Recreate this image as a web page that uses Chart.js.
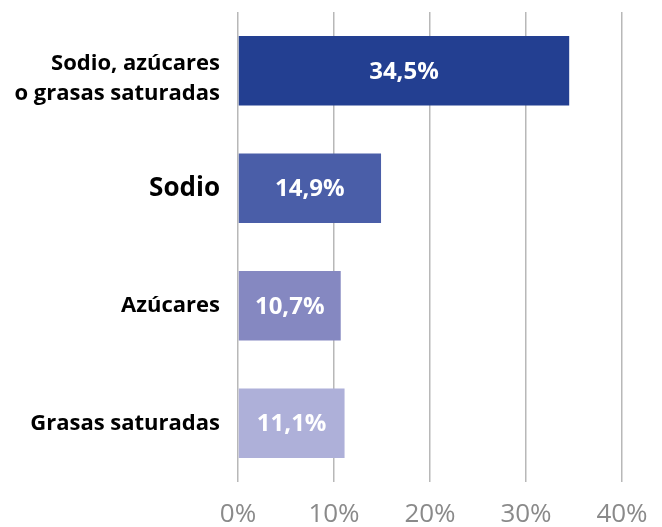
<!DOCTYPE html>
<html>
<head>
<meta charset="utf-8">
<script src="https://cdn.jsdelivr.net/npm/chart.js@4/dist/chart.umd.min.js"></script>
<style>
html,body{margin:0;padding:0;background:#fff;}
#wrap{width:662px;height:527px;position:relative;}
</style>
</head>
<body>
<div id="wrap"><canvas id="c" width="662" height="527"></canvas></div>
<script>
const categories = [["Sodio, azúcares", "o grasas saturadas"], "Sodio", "Azúcares", "Grasas saturadas"];
const values = [34.5, 14.9, 10.7, 11.1];
const valueLabels = ["34,5%", "14,9%", "10,7%", "11,1%"];
const xTicks = [0, 10, 20, 30, 40];
const barColors = ["#233f91", "#4a5ea8", "#8588c1", "#aeb0d9"];

const FONT = "'Open Sans', 'Noto Sans', sans-serif";

const valueLabelPlugin = {
  id: 'valueLabels',
  afterDatasetsDraw(chart) {
    const ctx = chart.ctx;
    const meta = chart.getDatasetMeta(0);
    ctx.save();
    ctx.fillStyle = '#ffffff';
    ctx.font = 'bold 24px ' + FONT;
    ctx.textAlign = 'center';
    ctx.textBaseline = 'middle';
    meta.data.forEach((el, i) => {
      const cx = (el.x + el.base) / 2;
      ctx.fillText(valueLabels[i], cx, el.y + 1);
    });
    // multi-line first category label, drawn slightly below its bar centre like the reference
    const yScale = chart.scales.y;
    const lines = categories[0];
    const yc = yScale.getPixelForValue(0) + 8;
    ctx.fillStyle = '#000000';
    ctx.font = 'bold 22px ' + FONT;
    ctx.textAlign = 'right';
    const lh = 30;
    lines.forEach((t, k) => {
      ctx.fillText(t, yScale.right - 18, yc + (k - (lines.length - 1) / 2) * lh);
    });
    ctx.restore();
  }
};

new Chart(document.getElementById('c'), {
  type: 'bar',
  data: {
    labels: categories,
    datasets: [{
      data: values,
      backgroundColor: barColors,
      borderWidth: 0,
      barPercentage: 0.59,
      categoryPercentage: 1.0
    }]
  },
  options: {
    indexAxis: 'y',
    responsive: false,
    animation: false,
    layout: { padding: { left: 0, right: 40, top: 12, bottom: 0 } },
    plugins: { legend: { display: false }, tooltip: { enabled: false } },
    scales: {
      x: {
        min: 0, max: 40,
        afterBuildTicks(scale) { scale.ticks = xTicks.map(v => ({ value: v })); },
        grid: { color: '#b8b8b8', lineWidth: 1.5, drawTicks: false },
        border: { display: false },
        ticks: {
          padding: 17,
          color: '#8a8a8a',
          font: { family: FONT, size: 26 },
          callback: v => v + '%'
        },
        afterFit(scale) { scale.height = 45; scale.paddingLeft = 0; scale.paddingRight = 0; }
      },
      y: {
        grid: { display: false, drawTicks: false },
        border: { display: false },
        ticks: {
          padding: 18,
          color: (c) => c.index === 0 ? 'rgba(0,0,0,0)' : '#000000',
          font: (c) => ({ family: FONT, size: c.index === 1 ? 26 : 22, weight: 'bold', lineHeight: 1.35 })
        },
        afterFit(scale) { scale.width = 238; scale.paddingTop = 0; scale.paddingBottom = 0; }
      }
    }
  },
  plugins: [valueLabelPlugin]
});
</script>
</body>
</html>
